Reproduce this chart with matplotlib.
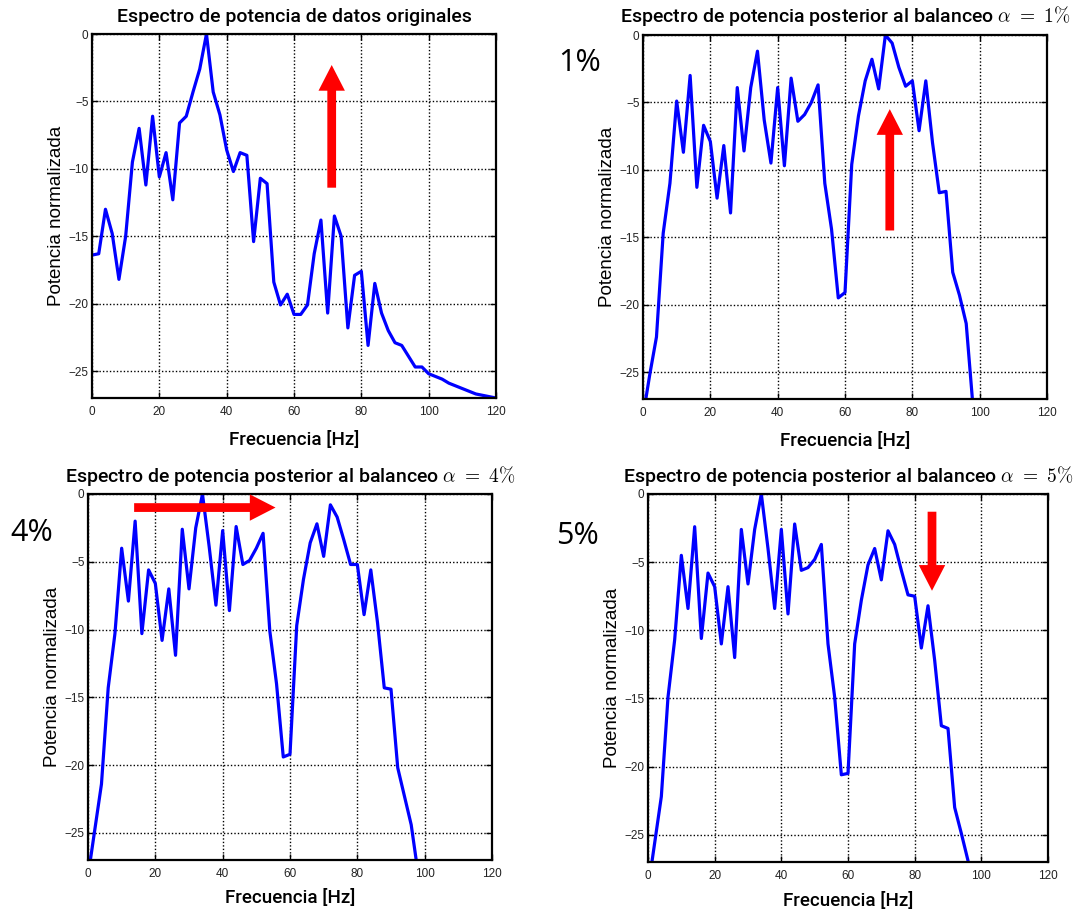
import numpy as np
from matplotlib import pyplot as plt

plt.rcParams['mathtext.fontset'] = 'cm'

# frecuencias (Hz), resolucion de 2 Hz
freq_orig = np.arange(0, 121, 2)
freq_bal = np.arange(0, 99, 2)

# espectro normalizado (dB) de los datos originales
pot_orig = [-16.4, -16.3, -13.0, -14.8, -18.2, -15.0, -9.5, -7.0, -11.2, -6.1,
            -10.6, -8.8, -12.3, -6.6, -6.1, -4.3, -2.6, 0.0, -4.3, -6.0,
            -8.6, -10.2, -8.8, -9.0, -15.4, -10.7, -11.1, -18.4, -20.1, -19.3,
            -20.8, -20.8, -20.1, -16.3, -13.8, -20.7, -13.5, -15.0, -21.8, -17.9,
            -17.6, -23.1, -18.5, -20.7, -22.0, -22.9, -23.1, -23.9, -24.7, -24.7,
            -25.2, -25.4, -25.6, -25.9, -26.1, -26.3, -26.5, -26.7, -26.8, -26.9,
            -27.0]

# espectros tras el balanceo
pot_a1 = [-28.3, -25.2, -22.4, -14.7, -11.0, -4.9, -8.7, -3.0, -11.3, -6.7,
          -7.9, -12.1, -8.2, -13.2, -3.9, -8.6, -3.9, -1.2, -6.3, -9.5,
          -3.9, -9.7, -3.2, -6.4, -5.9, -5.0, -3.7, -11.0, -14.4, -19.5,
          -19.1, -9.6, -6.0, -3.4, -1.8, -4.0, 0.0, -0.6, -2.4, -3.8,
          -3.4, -7.1, -3.4, -8.0, -11.7, -11.6, -17.6, -19.3, -21.4, -27.5]

pot_a4 = [-28.2, -24.8, -21.4, -14.3, -10.3, -4.0, -7.9, -2.0, -10.3, -5.6,
          -6.6, -10.8, -7.0, -11.9, -2.6, -7.0, -2.5, 0.0, -3.9, -8.2,
          -2.7, -8.6, -2.4, -5.2, -4.9, -4.0, -2.9, -10.1, -14.0, -19.4,
          -19.2, -9.7, -6.3, -3.6, -2.2, -4.6, -0.8, -1.7, -3.4, -5.2,
          -5.2, -8.9, -5.6, -9.5, -14.3, -14.4, -20.2, -22.3, -24.4, -27.9]

pot_a5 = [-29.0, -25.6, -22.2, -14.9, -10.7, -4.5, -8.4, -2.4, -10.6, -5.8,
          -6.8, -11.0, -6.8, -12.0, -2.6, -6.6, -2.6, 0.0, -4.0, -8.4,
          -2.6, -8.8, -2.2, -5.6, -5.4, -4.8, -3.7, -11.0, -14.9, -20.6,
          -20.5, -11.0, -7.8, -5.2, -4.0, -6.3, -2.7, -3.7, -5.6, -7.4,
          -7.5, -11.3, -8.2, -12.2, -17.0, -17.2, -23.0, -24.9, -26.9, -30.5]

titulos = ['Espectro de potencia de datos originales',
           r'Espectro de potencia posterior al balanceo $\alpha\ =\ 1\%$',
           r'Espectro de potencia posterior al balanceo $\alpha\ =\ 4\%$',
           r'Espectro de potencia posterior al balanceo $\alpha\ =\ 5\%$']

# flechas: (cola, punta) en Hz / dB
flechas = [((71.2, -11.4), (71.2, -2.3)),
           ((73.3, -14.5), (73.3, -5.5)),
           ((13.7, -1.0), (55.7, -1.0)),
           ((85.2, -1.3), (85.2, -7.1))]

W, H = 1083, 911
fig = plt.figure(figsize=(W / 100, H / 100), dpi=100)

# cajas de los ejes en pixeles: izq, der, arriba, abajo
cajas = [(92, 496, 34, 398), (643, 1047, 35, 399),
         (88, 492, 494, 860), (648, 1048, 494, 862)]

# separacion de la etiqueta x bajo cada eje (px)
sep_xlabel = [33, 33, 29, 30]

series = [(freq_orig, pot_orig), (freq_bal, pot_a1),
          (freq_bal, pot_a4), (freq_bal, pot_a5)]

for i, (x0, x1, y0, y1) in enumerate(cajas):
    ax = fig.add_axes([x0 / W, 1 - y1 / H, (x1 - x0) / W, (y1 - y0) / H])
    fx, py = series[i]
    ax.plot(fx, py, color='#0000ff', linewidth=2.3)
    ax.set_xlim(0, 120)
    ax.set_ylim(-27, 0)
    ax.set_xticks(range(0, 121, 20))
    ax.set_yticks(range(-25, 1, 5))
    ax.grid(True, linestyle=(0, (1, 1.5)), color='black', linewidth=1.0)
    ax.tick_params(direction='in', top=True, right=True, length=4, width=1,
                   labelsize=8.5, labelcolor='#222222')
    ax.tick_params(axis='x', pad=6)
    ax.tick_params(axis='y', pad=2.5)
    for lab in ax.get_xticklabels() + ax.get_yticklabels():
        lab.set_family('Liberation Sans')
    for sp in ax.spines.values():
        sp.set_linewidth(1.6)
    ax.set_title(titulos[i], family='Roboto', fontweight='medium', fontsize=14, pad=9)
    ax.set_xlabel('Frecuencia [Hz]', family='Roboto', fontweight='medium', fontsize=13.5)
    ax.xaxis.set_label_coords(0.5, -sep_xlabel[i] / (y1 - y0))
    ax.set_ylabel('Potencia normalizada', family='Liberation Sans', fontsize=13.5)
    ax.yaxis.set_label_coords(-27 / (x1 - x0), 0.5)

    cola, punta = flechas[i]
    ax.annotate('', xy=punta, xytext=cola,
                arrowprops=dict(facecolor='#ff0000', edgecolor='none', width=6.3,
                                headwidth=19, headlength=18.5, shrink=0))

# porcentajes de balanceo
for txt, x, y in [('1%', 580, 63), ('4%', 32, 533), ('5%', 577, 536)]:
    fig.text(x / W, 1 - y / H, txt, family='Open Sans', fontsize=22,
             ha='center', va='center')

plt.savefig('out.png', dpi=100)
